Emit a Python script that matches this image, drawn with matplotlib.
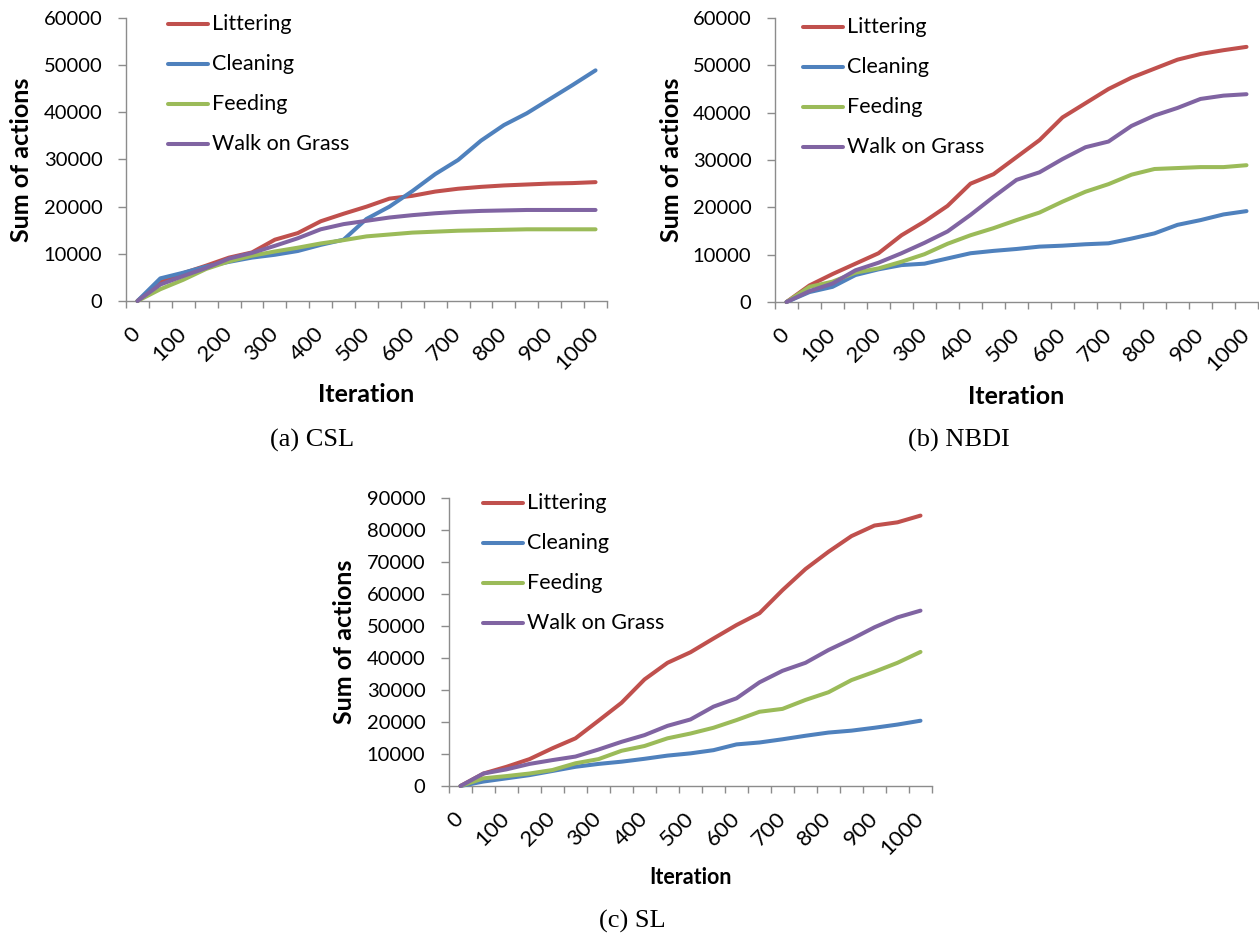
import numpy as np
import matplotlib.pyplot as plt
from matplotlib.lines import Line2D

plt.rcParams['font.family'] = ['Lato', 'DejaVu Sans']

W, H = 1259, 936

iterations = list(range(0, 1001, 50))
series_names = ['Littering', 'Cleaning', 'Feeding', 'Walk on Grass']
colors = ['#C0504D', '#4F81BD', '#9BBB59', '#8064A2']
axis_gray = '#8C8C8C'

# (a) CSL
csl_littering = [0, 4000, 5900, 7500, 9200, 10300, 13000, 14400, 16900, 18500, 20000,
                 21700, 22300, 23200, 23800, 24200, 24500, 24700, 24900, 25000, 25200]
csl_cleaning = [0, 4800, 6000, 7300, 8300, 9200, 9800, 10600, 11900, 13000, 17400,
                20000, 23300, 26900, 29900, 34000, 37300, 39800, 42800, 45800, 48900]
csl_feeding = [0, 2500, 4500, 6800, 8400, 9600, 10500, 11300, 12200, 12900, 13700,
               14100, 14500, 14700, 14900, 15000, 15100, 15200, 15200, 15200, 15200]
csl_grass = [0, 3500, 5300, 7000, 9000, 10200, 11700, 13300, 15200, 16300, 17000,
             17700, 18200, 18600, 18900, 19100, 19200, 19300, 19300, 19300, 19300]

# (b) NBDI
nbdi_littering = [0, 3500, 5900, 8100, 10300, 14100, 17000, 20300, 25000, 27000, 30600,
                  34200, 39000, 42000, 45000, 47400, 49300, 51200, 52400, 53200, 53900]
nbdi_cleaning = [0, 2100, 3200, 5700, 6900, 7800, 8100, 9200, 10300, 10800, 11200,
                 11700, 11900, 12200, 12400, 13400, 14500, 16300, 17300, 18500, 19200]
nbdi_feeding = [0, 3200, 4300, 6200, 7100, 8500, 10100, 12300, 14100, 15600, 17300,
                18900, 21200, 23300, 24900, 26900, 28100, 28300, 28500, 28500, 28900]
nbdi_grass = [0, 2300, 3900, 6700, 8300, 10300, 12500, 14900, 18400, 22200, 25800,
              27400, 30200, 32700, 33900, 37200, 39400, 41000, 42900, 43600, 43900]

# (c) SL
sl_littering = [0, 3900, 6000, 8400, 11800, 14900, 20400, 26000, 33300, 38500, 41800,
                46100, 50300, 54000, 61200, 67800, 73200, 78100, 81400, 82400, 84500]
sl_cleaning = [0, 1400, 2400, 3400, 4700, 6000, 6900, 7600, 8500, 9500, 10200,
               11200, 13000, 13600, 14600, 15700, 16700, 17300, 18200, 19200, 20400]
sl_feeding = [0, 2400, 3100, 3900, 5000, 7100, 8400, 11000, 12500, 14900, 16400,
              18200, 20600, 23200, 24100, 26900, 29300, 33100, 35700, 38500, 41900]
sl_grass = [0, 3900, 5200, 6900, 8100, 9200, 11400, 13800, 15900, 18800, 20800,
            24800, 27400, 32400, 36000, 38500, 42500, 45900, 49600, 52700, 54800]

fig = plt.figure(figsize=(W / 100, H / 100), dpi=100)


def fx(x):
    return x / W


def fy(y):
    return 1 - y / H


def draw_panel(rect, series, ymax, leg, xlab_y, xlab_size, caption, cap_x, cap_y):
    l, t, r, b = rect
    ax = fig.add_axes([fx(l), fy(b), (r - l) / W, (b - t) / H])
    n = len(iterations)
    x = np.arange(n)
    for vals, c in zip(series, colors):
        ax.plot(x, vals, color=c, lw=2.9, solid_capstyle='round',
                solid_joinstyle='round', clip_on=False, zorder=3)
    ax.set_xlim(-0.5, n - 0.5)
    ax.set_ylim(0, ymax)
    yt = np.arange(0, ymax + 1, 10000)
    ax.set_yticks(yt)
    ax.set_yticklabels([str(v) for v in yt])
    ax.set_xticks(x[::2])
    ax.set_xticklabels([str(v) for v in iterations[::2]], rotation=45,
                       ha='right', va='center', rotation_mode='anchor')
    ax.set_xticks(np.arange(-0.5, n), minor=True)
    ax.tick_params(axis='x', which='major', length=0, pad=21, labelsize=16)
    ax.tick_params(axis='x', which='minor', length=5, color=axis_gray, width=1)
    ax.tick_params(axis='y', length=5.5, color=axis_gray, width=1,
                   labelsize=14.5, pad=11.5)
    for s in ['top', 'right']:
        ax.spines[s].set_visible(False)
    for s in ['left', 'bottom']:
        ax.spines[s].set_color(axis_gray)
        ax.spines[s].set_linewidth(1)

    # y label sits ~104 px left of the axis
    fig.text(fx(l - 104), fy((t + b) / 2), 'Sum of actions', rotation=90,
             ha='center', va='center', fontsize=18, fontweight='bold')
    fig.text(fx((l + r) / 2), fy(xlab_y), 'Iteration', ha='center', va='center',
             fontsize=xlab_size, fontweight='bold')
    fig.text(fx(cap_x), fy(cap_y), caption, ha='center', va='center',
             fontsize=19, family='Liberation Serif')

    # legend drawn by hand, top-left inside the plot
    x0, x1, y0, xt = leg
    for i, (name, c) in enumerate(zip(series_names, colors)):
        yy = fy(y0 + 40 * i)
        fig.add_artist(Line2D([fx(x0), fx(x1)], [yy, yy], color=c, lw=2.9,
                              solid_capstyle='round', transform=fig.transFigure))
        fig.text(fx(xt), yy, name, ha='left', va='center', fontsize=15.5)
    return ax


draw_panel((126, 18, 607, 301),
           [csl_littering, csl_cleaning, csl_feeding, csl_grass], 60000,
           (168, 208, 24, 212), 395, 18, '(a) CSL', 312, 440)
draw_panel((775, 18, 1258, 302),
           [nbdi_littering, nbdi_cleaning, nbdi_feeding, nbdi_grass], 60000,
           (803, 843, 27, 847), 397, 18, '(b) NBDI', 959, 440)
draw_panel((449, 498, 932, 786),
           [sl_littering, sl_cleaning, sl_feeding, sl_grass], 90000,
           (483, 523, 503, 527), 878, 15.5, '(c) SL', 632, 921)

fig.savefig('out.png', dpi=100)
